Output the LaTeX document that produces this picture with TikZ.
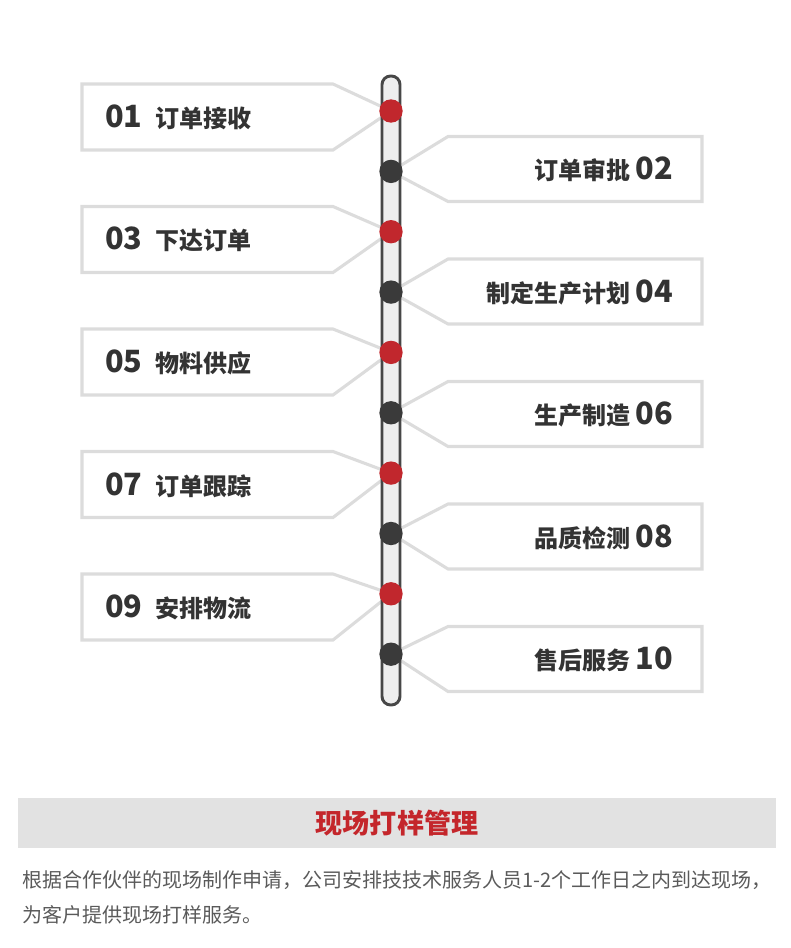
\documentclass[tikz,border=0pt]{standalone}
\usepackage{fontspec}
\setmainfont{Noto Sans CJK SC}
\usetikzlibrary{positioning}
\definecolor{boxgray}{HTML}{DCDCDC}
\definecolor{bardark}{HTML}{474747}
\definecolor{barfill}{HTML}{EEEEEE}
\definecolor{dotred}{HTML}{C1272D}
\definecolor{dotdark}{HTML}{3A3A3A}
\definecolor{textdark}{HTML}{333333}
\definecolor{bandgray}{HTML}{E2E2E2}
\definecolor{titlered}{HTML}{C4262B}
\definecolor{bodygray}{HTML}{5A5A5A}
\newcommand\stepnum{\fontsize{23}{23}\selectfont\bfseries}
\newcommand\steplab{\fontsize{18}{18}\selectfont\bfseries}

\begin{document}
\begin{tikzpicture}[
    x=0.75pt, y=-0.75pt,
    boxline/.style={draw=boxgray, line width=2.3pt, fill=white},
    bar/.style={draw=bardark, line width=2.2pt, fill=barfill, rounded corners=6.5pt},
    reddot/.style={circle, fill=dotred, minimum size=17.5pt, inner sep=0pt},
    darkdot/.style={circle, fill=dotdark, minimum size=17.5pt, inner sep=0pt},
    lstep/.style={anchor=base west, text=textdark, inner sep=0pt},
    rstep/.style={anchor=base east, text=textdark, inner sep=0pt},
    band/.style={fill=bandgray, minimum width=568.5pt, minimum height=37.5pt,
                 text=titlered, font=\fontsize{20.3}{20}\selectfont\bfseries}
]
    \useasboundingbox (0,0) rectangle (790,948);

    % ===== points on the bar =====
    \coordinate (p01) at (391,111);
    \coordinate (p02) at (391,171.4);
    \coordinate (p03) at (391,231.7);
    \coordinate (p04) at (391,292.1);
    \coordinate (p05) at (391,352.4);
    \coordinate (p06) at (391,412.8);
    \coordinate (p07) at (391,473.1);
    \coordinate (p08) at (391,533.5);
    \coordinate (p09) at (391,593.8);
    \coordinate (p10) at (391,654.2);

    % ===== boxes (left) =====
    \draw[boxline] (82,84)    -- (333,84)    -- (p01) -- (333,150)   -- (82,150)   -- cycle;
    \draw[boxline] (82,206.5) -- (333,206.5) -- (p03) -- (333,272.5) -- (82,272.5) -- cycle;
    \draw[boxline] (82,329)   -- (333,329)   -- (p05) -- (333,395)   -- (82,395)   -- cycle;
    \draw[boxline] (82,451.5) -- (333,451.5) -- (p07) -- (333,517.5) -- (82,517.5) -- cycle;
    \draw[boxline] (82,574)   -- (333,574)   -- (p09) -- (333,640)   -- (82,640)   -- cycle;

    % ===== boxes (right) =====
    \draw[boxline] (702,136.5) -- (448,136.5) -- (p02) -- (448,201.5) -- (702,201.5) -- cycle;
    \draw[boxline] (702,259)   -- (448,259)   -- (p04) -- (448,324)   -- (702,324)   -- cycle;
    \draw[boxline] (702,381.5) -- (448,381.5) -- (p06) -- (448,446.5) -- (702,446.5) -- cycle;
    \draw[boxline] (702,504)   -- (448,504)   -- (p08) -- (448,569)   -- (702,569)   -- cycle;
    \draw[boxline] (702,626.5) -- (448,626.5) -- (p10) -- (448,691.5) -- (702,691.5) -- cycle;

    % ===== bar and dots =====
    \draw[bar] (382,76) rectangle (400,705);
    \node[reddot]  (d01) at (p01) {};
    \node[darkdot] (d02) at (p02) {};
    \node[reddot]  (d03) at (p03) {};
    \node[darkdot] (d04) at (p04) {};
    \node[reddot]  (d05) at (p05) {};
    \node[darkdot] (d06) at (p06) {};
    \node[reddot]  (d07) at (p07) {};
    \node[darkdot] (d08) at (p08) {};
    \node[reddot]  (d09) at (p09) {};
    \node[darkdot] (d10) at (p10) {};

    % ===== step texts =====
    \node[lstep] (s01) at (105,127.5) {\stepnum 01\hspace{9.5pt}\steplab 订单接收};
    \node[rstep] (s02) at (673,179.5) {\steplab 订单审批\hspace{4pt}\stepnum 02};
    \node[lstep] (s03) at (105,250)   {\stepnum 03\hspace{9.5pt}\steplab 下达订单};
    \node[rstep] (s04) at (673,302)   {\steplab 制定生产计划\hspace{4pt}\stepnum 04};
    \node[lstep] (s05) at (105,372.5) {\stepnum 05\hspace{9.5pt}\steplab 物料供应};
    \node[rstep] (s06) at (673,424.5) {\steplab 生产制造\hspace{4pt}\stepnum 06};
    \node[lstep] (s07) at (105,495)   {\stepnum 07\hspace{9.5pt}\steplab 订单跟踪};
    \node[rstep] (s08) at (673,547)   {\steplab 品质检测\hspace{4pt}\stepnum 08};
    \node[lstep] (s09) at (105,617.5) {\stepnum 09\hspace{9.5pt}\steplab 安排物流};
    \node[rstep] (s10) at (673,669.5) {\steplab 售后服务\hspace{4pt}\stepnum 10};

    % ===== bottom note =====
    \node[band] (title) at (397,823) {现场打样管理};
    \node[anchor=north west, align=left, inner sep=0pt, text=bodygray,
          font=\fontsize{15}{26.25}\selectfont] (desc) at (22,870.5)
        {根据合作伙伴的现场制作申请，公司安排技技术服务人员1-2个工作日之内到达现场，\\
         为客户提供现场打样服务。};
\end{tikzpicture}
\end{document}
